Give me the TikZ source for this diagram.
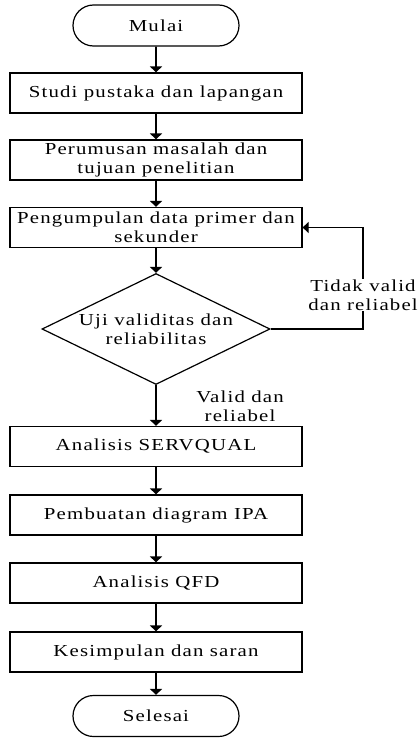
\documentclass[tikz,border=0pt]{standalone}
\usepackage{fontspec}
\setmainfont{Liberation Serif}[FakeStretch=1.24,LetterSpace=7]
\usetikzlibrary{shapes.geometric}
\usetikzlibrary{shapes.misc}
\usetikzlibrary{arrows.meta}

\begin{document}
\begin{tikzpicture}[x=1bp,y=1bp,
        every node/.style={font=\fontsize{16.8bp}{18.5bp}\selectfont},
        box/.style={draw,line width=1.2bp,minimum width=292bp,minimum height=40bp,align=center,inner sep=0pt},
        term/.style={draw,line width=1.2bp,rounded rectangle,minimum width=166bp,minimum height=41bp,inner sep=0pt},
        dec/.style={draw,line width=1.2bp,diamond,aspect=2.05,minimum width=228bp,minimum height=111bp,inner sep=0pt,align=center},
        flow/.style={line width=1.8bp,-{Triangle[width=12bp,length=6bp]}},
        back/.style={line width=1.1bp,-{Triangle[width=11bp,length=6bp]}}]
        \useasboundingbox (0,0) rectangle (419,-738);
        \node[term] (start) at (156,-25.5) {Mulai};
        \node[box] (studi) at (156,-93) {Studi pustaka dan lapangan};
        \node[box] (rumus) at (156,-160) {Perumusan masalah dan\\tujuan penelitian};
        \node[box] (data) at (156,-227.5) {Pengumpulan data primer dan\\sekunder};
        \node[dec] (uji) at (156,-329) {Uji validitas dan\\reliabilitas};
        \node[box] (servqual) at (156,-446.5) {Analisis SERVQUAL};
        \node[box] (ipa) at (156,-515) {Pembuatan diagram IPA};
        \node[box] (qfd) at (156,-583) {Analisis QFD};
        \node[box] (simpul) at (156,-652) {Kesimpulan dan saran};
        \node[term] (end) at (156,-716) {Selesai};
        \draw (start) edge[flow] (studi);
        \draw (studi) edge[flow] (rumus);
        \draw (rumus) edge[flow] (data);
        \draw (data) edge[flow] (uji);
        \draw (uji) edge[flow] (servqual);
        \draw (servqual) edge[flow] (ipa);
        \draw (ipa) edge[flow] (qfd);
        \draw (qfd) edge[flow] (simpul);
        \draw (simpul) edge[flow] (end);
        \coordinate (balik) at (363,-329);
        \draw[back] (uji.east) -- (balik) |- (data.east);
        \node[fill=white,align=center,inner sep=1bp] (tidak) at (363,-295) {Tidak valid\\dan reliabel};
        \node[align=center] (valid) at (240,-406) {Valid dan\\reliabel};
\end{tikzpicture}
\end{document}
